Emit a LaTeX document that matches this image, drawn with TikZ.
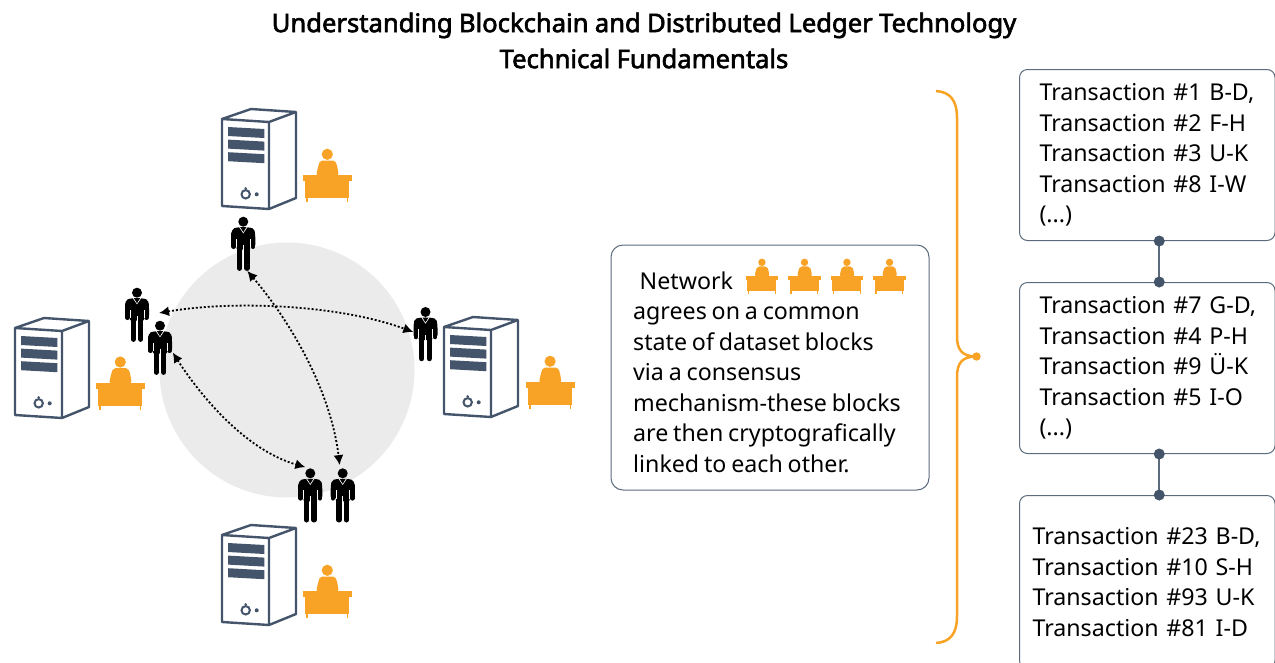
\documentclass[tikz,border=0pt]{standalone}
\usepackage{fontspec}
\setmainfont[WordSpace=0.8]{Noto Sans}
\newfontfamily\titlefont[FakeBold=2.4,WordSpace=0.95]{Noto Sans}
\usetikzlibrary{arrows.meta}
\definecolor{slate}{HTML}{44546A}
\definecolor{slateline}{HTML}{5B6B7C}
\definecolor{amber}{HTML}{F8A326}
\definecolor{disc}{HTML}{EBEBEB}
\tikzset{
  every node/.style={text=black},
  bodytext/.style={font=\fontsize{23.2}{30.5}\selectfont,align=left},
  txbox/.style={draw=slateline,line width=1pt,rounded corners=8pt,fill=white,anchor=north west,bodytext,inner ysep=0pt},
  netbox/.style={draw=slateline,line width=1pt,rounded corners=12pt,fill=white,minimum width=318pt,minimum height=245pt},
  manbox/.style={inner sep=0pt,minimum width=24pt,minimum height=54pt},
  link/.style={draw=slateline,line width=2pt},
  linkdot/.style={fill=slate,draw=none},
  gossip/.style={black,line width=1.8pt,dash pattern=on 2pt off 2pt,{Latex[length=10pt,width=10pt]}-{Latex[length=10pt,width=10pt]}},
  server/.pic={
    \draw[slate,line width=2.4pt,fill=white,line join=round]
      (0,10) -- (29,0) -- (74,3) -- (74,89) -- (47,100) -- (0,97) -- cycle;
    \draw[slate,line width=2.4pt,line join=round] (0,10) -- (47,13) -- (74,3) (47,13) -- (47,100);
    \foreach \d in {0,12.6,25.2}
      \fill[slate] (6,18+\d) -- (42.3,20+\d) -- (42.3,29+\d) -- (6,27+\d) -- cycle;
    \draw[slate,line width=2pt] (23.7,85.3) circle (4.2);
    \fill[slate] (23.7,79.4) circle (1.4);
    \fill[slate] (34.7,85.3) circle (2);
  },
  desk/.pic={
    \fill[amber] (24.6,-20.7) circle (5.6);
    \fill[amber,rounded corners=2pt] (13.5,0.5) -- (15.5,-9) -- (17.5,-14.5) -- (32.5,-14.5) -- (34.5,-9) -- (36,0.5) -- cycle;
    \fill[amber] (0,0) rectangle (49.3,6.3);
    \fill[amber] (2.7,6.3) rectangle (46.2,23.3);
    \fill[amber] (3.3,23.3) rectangle (5,27);
    \fill[amber] (44,23.3) rectangle (45.7,27);
  },
  man/.pic={
    \fill[black] (0,-22) circle (5);
    \fill[black,rounded corners=2pt] (-12,-8) -- (-11,-15) -- (-5,-16.5) -- (5,-16.5) -- (11,-15) -- (12,-8) -- (12,3) -- (-12,3) -- cycle;
    \fill[black,rounded corners=1pt] (-6.8,-10) rectangle (6.8,6);
    \draw[black,line width=4.6pt,line cap=round] (-9.6,-10) -- (-9.6,3);
    \draw[black,line width=4.6pt,line cap=round] (9.6,-10) -- (9.6,3);
    \draw[black,line width=5.2pt,line cap=round] (-3.7,0) -- (-3.7,24.6);
    \draw[black,line width=5.2pt,line cap=round] (3.7,0) -- (3.7,24.6);
    \fill[white] (-7.2,-5) rectangle (-6.6,3.5);
    \fill[white] (6.6,-5) rectangle (7.2,3.5);
    \draw[white,line width=0.7pt] (-3.8,-16.6) -- (0,-11) -- (3.8,-16.6);
    \fill[black] (0,-16.6) -- (-1.4,-14.5) -- (0,-11.6) -- (1.4,-14.5) -- cycle;
    \draw[white,line width=0.8pt] (0,1) -- (0,25);
  },
}
\begin{document}
\begin{tikzpicture}[x=1pt,y=-1pt]
\useasboundingbox (0,0) rectangle (1275,662);
\clip (0,0) rectangle (1275,662);

\node[font=\titlefont\fontsize{25.6}{36}\selectfont,align=center] (title) at (644,40.5)
  {Understanding Blockchain and Distributed Ledger Technology\\Technical Fundamentals};

\fill[disc] (287,370) circle (127.5);

\pic at (222,109) {server};
\pic at (15,318) {server};
\pic at (444,317) {server};
\pic at (222,525) {server};
\pic at (302.7,175) {desk};
\pic at (95.7,382.7) {desk};
\pic at (525.5,382) {desk};
\pic at (302.7,591) {desk};

\node[manbox] (mtop) at (243.3,243.7) {};
\node[manbox] (mla) at (137,314.7) {};
\node[manbox] (mlb) at (160,347.7) {};
\node[manbox] (mbl) at (310.3,495.3) {};
\node[manbox] (mbr) at (342.7,495.3) {};
\node[manbox] (mr) at (425.5,334) {};
\foreach \m in {mtop,mla,mlb,mbl,mbr,mr} \pic at (\m.center) {man};

\draw[gossip,shorten <=10pt] (mla.east) .. controls (235,300) and (340,305) .. ([yshift=2pt]mr.west);
\draw[gossip] ([xshift=4pt]mtop.south) .. controls (285,315) and (330,385) .. ([xshift=-3pt,yshift=3pt]mbr.north);
\draw[gossip,shorten <=1pt] ([yshift=-4pt]mlb.east) .. controls (200,395) and (245,450) .. ([xshift=-5pt,yshift=1pt]mbl.north);

\node[netbox] (net) at (770,367.5) {};
\node[bodytext,anchor=north west,inner sep=0pt] (nettext) at (633,271.5)
  {\hspace{6.5pt}Network\\agrees on a common\\state of dataset blocks\\via a consensus\\mechanism-these blocks\\are then cryptografically\\linked to each other.};
\foreach \x in {745.7,788.3,830.7,873.3} \pic[scale=0.66] at (\x,276) {desk};

\node[txbox,minimum height=171pt,inner xsep=20pt,text width=215.5pt] (b1) at (1019,69)
  {\mbox{Transaction \#1 B-D,}\\\mbox{Transaction \#2 F-H}\\\mbox{Transaction \#3 U-K}\\\mbox{Transaction \#8 I-W}\\(...)};
\node[txbox,minimum height=171pt,inner xsep=20pt,text width=215.5pt] (b2) at (1019,282)
  {\mbox{Transaction \#7 G-D,}\\\mbox{Transaction \#4 P-H}\\\mbox{Transaction \#9 Ü-K}\\\mbox{Transaction \#5 I-O}\\(...)};
\node[txbox,minimum height=173pt,inner xsep=13pt,text width=229.5pt] (b3) at (1019,495)
  {\mbox{Transaction \#23 B-D,}\\\mbox{Transaction \#10 S-H}\\\mbox{Transaction \#93 U-K}\\\mbox{Transaction \#81 I-D}};

\draw[link] ([xshift=12pt]b1.south) -- ([xshift=12pt]b2.north);
\draw[link] ([xshift=12pt]b2.south) -- ([xshift=12pt]b3.north);
\foreach \b in {b1,b2} \fill[linkdot] ([xshift=12pt]\b.south) circle (5.5);
\foreach \b in {b2,b3} \fill[linkdot] ([xshift=12pt]\b.north) circle (5.5);

\draw[amber,line width=2.5pt,line join=round] (936,91) .. controls (950,92) and (957,100) .. (957,118)
  -- (957,336) .. controls (957,350) and (962,356.5) .. (976.5,356.5)
  .. controls (962,356.5) and (957,363) .. (957,377)
  -- (957,616) .. controls (957,634) and (950,642) .. (936,643);
\fill[amber] (976.5,356.5) circle (4.2);
\end{tikzpicture}
\end{document}
